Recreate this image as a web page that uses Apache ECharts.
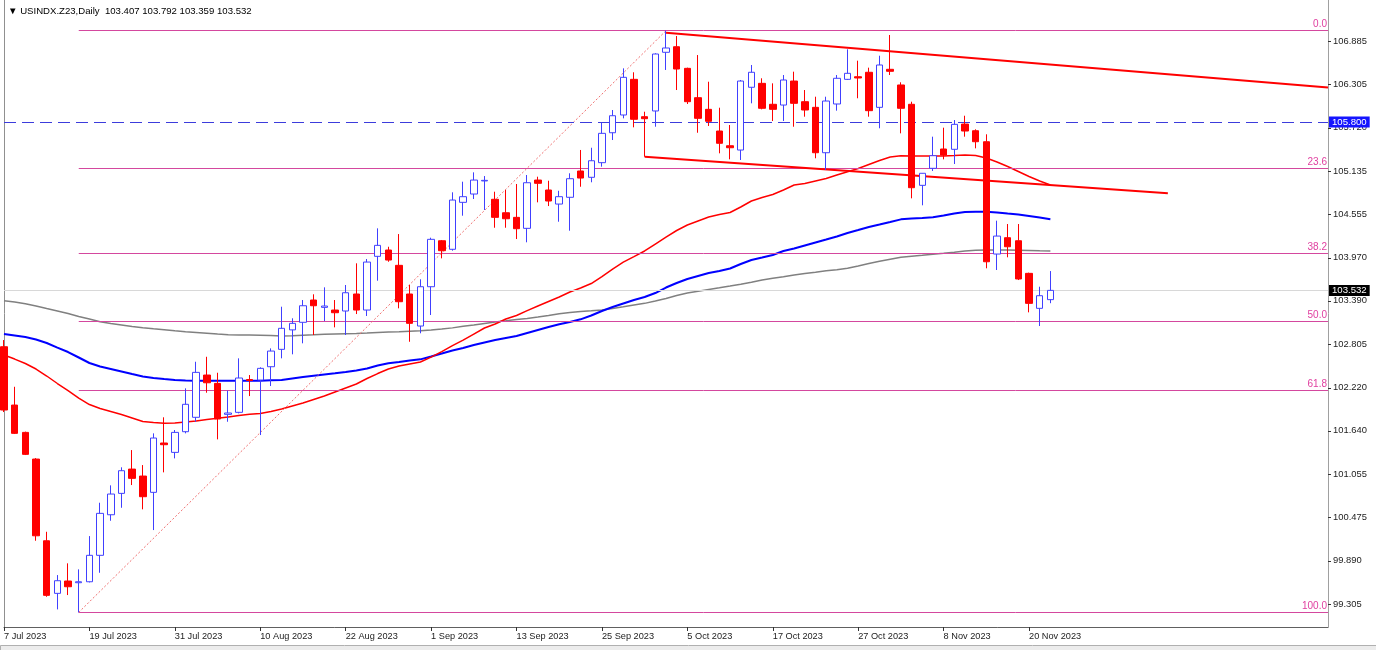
<!DOCTYPE html>
<html><head><meta charset="utf-8">
<script src="https://cdn.jsdelivr.net/npm/echarts@6/dist/echarts.min.js"></script>
<style>html,body{margin:0;padding:0;background:#fff;}#c{width:1376px;height:650px;}</style>
</head><body><div id="c"></div>
<script>
const FONT = 'Liberation Sans';
const dates = ['7 Jul 2023','10 Jul 2023','11 Jul 2023','12 Jul 2023','13 Jul 2023','14 Jul 2023','17 Jul 2023','18 Jul 2023','19 Jul 2023','20 Jul 2023','21 Jul 2023','24 Jul 2023','25 Jul 2023','26 Jul 2023','27 Jul 2023','28 Jul 2023','31 Jul 2023',
'1 Aug 2023','2 Aug 2023','3 Aug 2023','4 Aug 2023','7 Aug 2023','8 Aug 2023','9 Aug 2023','10 Aug 2023','11 Aug 2023','14 Aug 2023','15 Aug 2023','16 Aug 2023','17 Aug 2023','18 Aug 2023','21 Aug 2023','22 Aug 2023','23 Aug 2023','24 Aug 2023','25 Aug 2023','28 Aug 2023','29 Aug 2023','30 Aug 2023','31 Aug 2023',
'1 Sep 2023','4 Sep 2023','5 Sep 2023','6 Sep 2023','7 Sep 2023','8 Sep 2023','11 Sep 2023','12 Sep 2023','13 Sep 2023','14 Sep 2023','15 Sep 2023','18 Sep 2023','19 Sep 2023','20 Sep 2023','21 Sep 2023','22 Sep 2023','25 Sep 2023','26 Sep 2023','27 Sep 2023','28 Sep 2023','29 Sep 2023',
'2 Oct 2023','3 Oct 2023','4 Oct 2023','5 Oct 2023','6 Oct 2023','9 Oct 2023','10 Oct 2023','11 Oct 2023','12 Oct 2023','13 Oct 2023','16 Oct 2023','17 Oct 2023','18 Oct 2023','19 Oct 2023','20 Oct 2023','23 Oct 2023','24 Oct 2023','25 Oct 2023','26 Oct 2023','27 Oct 2023','30 Oct 2023','31 Oct 2023',
'1 Nov 2023','2 Nov 2023','3 Nov 2023','6 Nov 2023','7 Nov 2023','8 Nov 2023','9 Nov 2023','10 Nov 2023','13 Nov 2023','14 Nov 2023','15 Nov 2023','16 Nov 2023','17 Nov 2023','20 Nov 2023','21 Nov 2023','22 Nov 2023'];
const futureSlots = 26;

const opens = [102.773,101.988,101.620,101.261,100.161,99.453,99.619,99.596,99.609,99.965,
100.511,100.799,101.126,101.032,100.813,101.477,101.351,101.629,101.823,102.392,
102.280,101.863,101.890,102.331,102.325,102.504,102.738,103.000,103.102,103.402,
103.303,103.267,103.254,103.483,103.267,103.990,104.075,103.869,103.483,103.052,
103.581,104.200,104.085,104.717,104.829,105.005,104.758,104.577,104.515,104.367,
105.017,104.883,104.694,104.785,105.139,105.054,105.251,105.654,105.893,106.373,
105.870,105.947,106.737,106.812,106.521,106.126,105.969,105.677,105.479,105.421,
106.266,106.319,106.037,106.027,106.350,106.072,105.996,105.385,106.041,106.373,
106.408,106.468,105.996,106.508,106.297,106.037,104.946,105.175,105.435,105.431,
105.771,105.681,105.533,104.021,104.241,104.200,103.761,103.290,103.407];
const highs = [102.863,102.234,101.630,101.274,100.282,99.699,99.857,99.776,100.224,100.673,
100.907,101.150,101.382,101.180,101.607,101.823,101.652,102.213,102.571,102.638,
102.423,102.181,102.617,102.392,102.496,102.751,103.312,103.156,103.402,103.479,
103.573,103.402,103.604,103.896,103.954,104.367,104.119,104.290,103.604,103.681,
104.241,104.210,104.852,104.995,105.121,105.071,104.860,104.883,104.964,105.085,
105.062,105.008,104.873,105.108,105.422,105.452,105.789,105.960,106.521,106.468,
105.937,106.724,107.028,106.956,106.530,106.700,106.341,105.991,105.758,106.364,
106.566,106.387,106.319,106.431,106.476,106.229,106.139,106.139,106.431,106.777,
106.624,106.530,106.691,106.970,106.333,106.072,105.110,105.601,105.722,105.825,
105.883,105.700,105.633,104.470,104.425,104.425,103.770,103.581,103.792];
const lows = [101.894,101.598,101.315,100.161,99.407,99.237,99.430,99.197,99.600,99.730,
100.430,100.605,100.911,100.584,100.305,101.082,101.270,101.607,101.763,102.154,
101.526,101.763,101.876,102.109,101.584,102.244,102.617,102.671,102.819,102.931,
103.119,103.034,102.931,103.213,103.187,103.662,103.917,103.290,102.840,102.954,
103.200,103.963,104.066,104.537,104.762,104.614,104.375,104.375,104.223,104.179,
104.717,104.667,104.456,104.335,104.927,104.987,105.197,105.556,105.848,105.727,
105.331,105.735,106.499,106.229,106.041,105.654,105.745,105.377,105.296,105.287,
106.050,105.969,105.812,105.812,105.735,105.870,105.310,105.152,105.951,106.364,
106.118,105.870,105.714,106.431,105.646,104.771,104.677,105.139,105.296,105.233,
105.601,105.444,103.829,103.806,103.977,103.671,103.236,103.052,103.359];
const closes = [101.921,101.607,101.324,100.228,99.426,99.623,99.542,99.609,99.965,100.530,
100.790,101.104,101.001,100.754,101.544,101.454,101.620,101.998,102.428,102.288,
101.800,101.881,102.352,102.318,102.482,102.715,103.021,103.088,103.325,103.325,
103.321,103.231,103.500,103.267,103.913,104.138,103.940,103.379,103.088,103.581,
104.219,104.066,104.748,104.793,105.017,105.013,104.515,104.496,104.362,104.981,
104.973,104.735,104.793,105.035,105.044,105.277,105.646,105.883,106.400,105.835,
105.843,106.714,106.795,106.512,106.072,105.848,105.808,105.512,105.452,106.350,
106.468,105.983,105.969,106.364,106.050,105.960,105.385,106.081,106.387,106.454,
106.391,105.951,106.566,106.481,105.983,104.914,105.108,105.345,105.354,105.767,
105.677,105.533,103.917,104.263,104.119,103.685,103.357,103.460,103.532];

const maRed = [102.661,102.607,102.547,102.473,102.379,102.278,102.183,102.082,101.995,101.941,
101.901,101.860,101.813,101.766,101.752,101.742,101.746,101.759,101.773,101.793,
101.809,101.826,101.847,101.863,101.874,101.901,101.934,101.975,102.015,102.062,
102.109,102.163,102.217,102.271,102.345,102.412,102.473,102.513,102.540,102.567,
102.634,102.708,102.789,102.863,102.944,103.025,103.079,103.146,103.193,103.260,
103.321,103.382,103.442,103.510,103.563,103.624,103.718,103.819,103.913,103.987,
104.062,104.156,104.250,104.338,104.412,104.466,104.519,104.553,104.580,104.654,
104.735,104.782,104.822,104.883,104.950,104.970,105.004,105.038,105.085,105.129,
105.172,105.226,105.280,105.327,105.345,105.341,105.341,105.341,105.341,105.347,
105.354,105.347,105.314,105.260,105.199,105.132,105.065,105.004,104.950];
const maBlue = [102.944,102.924,102.904,102.870,102.823,102.762,102.702,102.628,102.554,102.506,
102.473,102.439,102.405,102.372,102.352,102.338,102.325,102.318,102.315,102.315,
102.315,102.315,102.315,102.315,102.315,102.321,102.325,102.345,102.365,102.383,
102.399,102.415,102.432,102.453,102.480,102.520,102.550,102.567,102.587,102.603,
102.641,102.681,102.722,102.756,102.796,102.830,102.863,102.890,102.917,102.958,
102.998,103.038,103.075,103.106,103.142,103.193,103.254,103.308,103.355,103.402,
103.442,103.496,103.570,103.631,103.685,103.725,103.765,103.792,103.826,103.887,
103.941,103.974,104.008,104.062,104.095,104.136,104.176,104.216,104.257,104.304,
104.344,104.385,104.418,104.452,104.488,104.499,104.506,104.515,104.539,104.566,
104.587,104.591,104.591,104.580,104.566,104.553,104.533,104.513,104.488];
const maGray = [103.392,103.375,103.351,103.321,103.287,103.254,103.220,103.180,103.146,103.110,
103.085,103.065,103.045,103.029,103.014,103.001,102.987,102.976,102.966,102.955,
102.944,102.935,102.931,102.931,102.928,102.923,102.917,102.921,102.928,102.933,
102.940,102.944,102.948,102.952,102.957,102.964,102.971,102.976,102.982,102.987,
102.998,103.011,103.027,103.048,103.066,103.087,103.106,103.122,103.139,103.153,
103.173,103.194,103.217,103.233,103.247,103.256,103.267,103.287,103.310,103.335,
103.357,103.388,103.422,103.462,103.496,103.520,103.543,103.566,103.590,103.615,
103.641,103.671,103.695,103.714,103.738,103.759,103.776,103.795,103.811,103.829,
103.860,103.893,103.923,103.950,103.977,103.992,104.005,104.019,104.032,104.046,
104.062,104.071,104.075,104.075,104.075,104.072,104.068,104.064,104.062];

const yTicks = [99.305, 99.890, 100.475, 101.055, 101.640, 102.220, 102.805, 103.390, 103.970, 104.555, 105.135, 105.720, 106.305, 106.885];
const fibLevels = [0, 23.6, 38.2, 50, 61.8, 100];
const fibLabels = ['0.0', '23.6', '38.2', '50.0', '61.8', '100.0'];
const fibHigh = 107.028, fibLow = 99.197, fibStartIdx = 7, fibHighIdx = 62;
const upperTrend = [[62, 107.001], [124, 106.264]];
const lowerTrend = [[60, 105.331], [109, 104.841]];
const levelLine = 105.800;
const lastPrice = 103.532;
const titleText = '\u25BC USINDX.Z23,Daily  103.407 103.792 103.359 103.532';

const cats = dates.concat(new Array(futureSlots).fill(''));
const lastIdx = cats.length - 1;
const candles = opens.map((o, i) => [o, closes[i], lows[i], highs[i]]);
const labelEvery = (idx, val) => val !== '' && idx % 8 === 0;

const fibMarks = fibLevels.map((lv, k) => {
  const p = fibHigh - (fibHigh - fibLow) * lv / 100;
  return [{coord: [fibStartIdx, p]}, {coord: [lastIdx, p], label: {formatter: fibLabels[k]}}];
});

const chart = echarts.init(document.getElementById('c'), null, {renderer: 'canvas'});
chart.setOption({
  animation: false,
  backgroundColor: '#ffffff',
  title: {text: titleText, left: 3, top: 1, textStyle: {fontFamily: FONT, fontSize: 9.6, fontWeight: 'normal', color: '#000'}},
  grid: {left: 4, right: 48, top: 0, bottom: 23, containLabel: false},
  graphic: [
    {type: 'rect', left: 0, top: 645, shape: {width: 1376, height: 5}, style: {fill: '#ececec', stroke: '#b0b0b0', lineWidth: 1}, silent: true}
  ],
  xAxis: {
    type: 'category', data: cats, boundaryGap: false,
    axisLine: {show: true, onZero: false, lineStyle: {color: '#606060', width: 1}},
    axisTick: {show: true, interval: labelEvery, length: 4, lineStyle: {color: '#333'}},
    axisLabel: {interval: labelEvery, align: 'left', margin: 5, fontFamily: FONT, fontSize: 9.2, color: '#222'},
    splitLine: {show: false}
  },
  yAxis: [{
    type: 'value', position: 'right', min: 99.0, max: 107.441, scale: true,
    splitLine: {show: false},
    axisLine: {show: true, lineStyle: {color: '#a0a0a0', width: 1}},
    axisTick: {show: true, length: 3, customValues: yTicks, lineStyle: {color: '#333'}},
    axisLabel: {customValues: yTicks, formatter: v => v.toFixed(3), margin: 5, fontFamily: FONT, fontSize: 9.4, color: '#222'}
  }, {
    type: 'value', position: 'left', min: 99.0, max: 107.441,
    splitLine: {show: false}, axisTick: {show: false}, axisLabel: {show: false},
    axisLine: {show: true, lineStyle: {color: '#909090', width: 1}}
  }],
  series: [
    {
      type: 'line', name: 'maGray', data: maGray, showSymbol: false, z: 1,
      lineStyle: {color: '#808080', width: 1.5},
      markLine: {
        silent: true, symbol: ['none', 'none'], animation: false,
        lineStyle: {color: '#d4489e', width: 1, type: 'solid'},
        label: {show: true, position: 'insideEndTop', distance: 1, color: '#e040a0', fontFamily: FONT, fontSize: 10},
        data: fibMarks.concat([
          [{coord: [fibStartIdx, fibLow], lineStyle: {color: '#f07070', type: [2, 2], width: 1}, label: {show: false}},
           {coord: [fibHighIdx, fibHigh]}],
          {yAxis: lastPrice, lineStyle: {color: '#d8d8d8', type: 'solid', width: 1},
           label: {show: true, position: 'end', distance: 1, formatter: lastPrice.toFixed(3), color: '#fff', backgroundColor: '#000', padding: [1, 3, 0, 3], fontSize: 9.6, fontFamily: FONT}},
          {yAxis: levelLine, lineStyle: {color: '#3c3cdc', type: [12, 6], width: 1},
           label: {show: true, position: 'end', distance: 1, formatter: levelLine.toFixed(3), color: '#fff', backgroundColor: '#1515ff', padding: [1, 3, 0, 3], fontSize: 9.6, fontFamily: FONT}}
        ])
      }
    },
    {type: 'line', name: 'maBlue', data: maBlue, showSymbol: false, z: 2, lineStyle: {color: '#0000ff', width: 2}},
    {type: 'line', name: 'maRed', data: maRed, showSymbol: false, z: 3, lineStyle: {color: '#ff0000', width: 1.5}},
    {
      type: 'candlestick', name: 'USINDX.Z23', data: candles, barWidth: 7, z: 5,
      itemStyle: {color: '#ffffff', color0: '#ff0000', borderColor: '#4040ff', borderColor0: '#ff0000', borderWidth: 1}
    },
    {
      type: 'line', name: 'trend', data: [], z: 6,
      markLine: {
        silent: true, symbol: ['none', 'none'], animation: false,
        lineStyle: {color: '#ff0000', width: 2, type: 'solid'},
        label: {show: false},
        data: [
          [{coord: upperTrend[0]}, {coord: upperTrend[1]}],
          [{coord: lowerTrend[0]}, {coord: lowerTrend[1]}]
        ]
      }
    }
  ]
});
</script>
</body></html>
